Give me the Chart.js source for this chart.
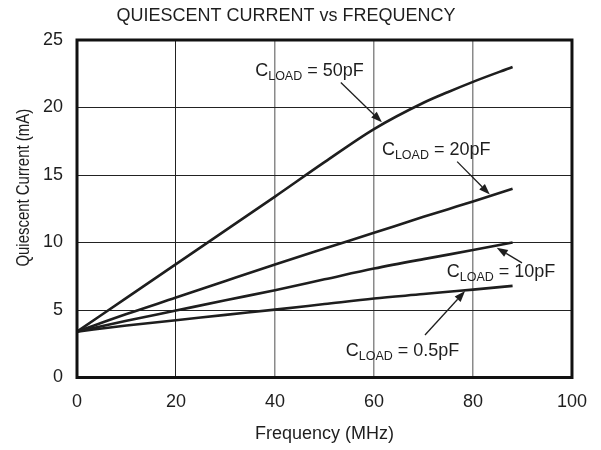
<!DOCTYPE html>
<html>
<head>
<meta charset="utf-8">
<script src="https://cdn.jsdelivr.net/npm/chart.js@4"></script>
<style>
  html, body { margin: 0; padding: 0; background: #fff; }
  #wrap { width: 601px; height: 450px; }
</style>
</head>
<body>
<div id="wrap"><canvas id="chart_iq"></canvas></div>
<script>
// frequency points (MHz)
var freq = [0, 10, 20, 30, 40, 50, 60, 70, 75, 80, 88];

// quiescent current (mA) per load capacitance
var iq50pF  = [3.4, 5.9, 8.4, 10.9, 13.4, 15.95, 18.4, 20.35, 21.15, 21.9, 23.0];
var iq20pF  = [3.4, 4.7, 5.92, 7.15, 8.37, 9.55, 10.72, 11.9, 12.47, 13.04, 13.98];
var iq10pF  = [3.4, 4.2, 4.96, 5.72, 6.47, 7.27, 8.07, 8.77, 9.1, 9.44, 10.0];
var iq05pF  = [3.4, 3.85, 4.24, 4.64, 5.03, 5.44, 5.85, 6.18, 6.35, 6.51, 6.79];

var xTicks = [0, 20, 40, 60, 80, 100];
var yTicks = [0, 5, 10, 15, 20, 25];

var yTitle = 'Quiescent Current (mA)';

// callouts: label anchor (left, baseline) and arrow tail -> head, in data units
var callouts = [
    { value: '50pF',  label: [36.0, 22.3], tail: [53.3, 21.85], head: [61.6, 18.9] },
    { value: '20pF',  label: [61.6, 16.5], tail: [76.8, 15.99], head: [83.4, 13.55] },
    { value: '10pF',  label: [74.7, 7.46], tail: [89.9, 8.49],  head: [84.8, 9.62] },
    { value: '0.5pF', label: [54.3, 1.6],  tail: [70.3, 3.15],  head: [78.4, 6.4] }
];

var INK = '#1e1e1e';
var FONT = "'Liberation Sans', Arial, Helvetica, sans-serif";

function toPoints(values) {
    return values.map((v, i) => ({ x: freq[i], y: v }));
}

function makeSet(label, values) {
    return {
        label: label,
        data: toPoints(values),
        borderColor: INK,
        borderWidth: 2.6,
        pointRadius: 0,
        cubicInterpolationMode: 'monotone',
        fill: false
    };
}

var calloutPlugin = {
    id: 'callouts',
    afterDatasetsDraw(chart) {
        let ctx = chart.ctx;
        let xs = chart.scales.x, ys = chart.scales.y;
        let area = chart.chartArea;

        // frame round the plot
        ctx.save();
        ctx.strokeStyle = '#111';
        ctx.lineWidth = 3;
        ctx.strokeRect(area.left, area.top, area.right - area.left, area.bottom - area.top);
        ctx.restore();

        // y axis title, narrow like the original
        ctx.save();
        ctx.translate(24, (area.top + area.bottom) / 2 - 21);
        ctx.rotate(-Math.PI / 2);
        ctx.scale(0.83, 1);
        ctx.fillStyle = INK;
        ctx.font = '18px ' + FONT;
        ctx.textAlign = 'center';
        ctx.textBaseline = 'middle';
        ctx.fillText(yTitle, 0, 0);
        ctx.restore();

        callouts.forEach(c => {
            let lx = xs.getPixelForValue(c.label[0]);
            let ly = ys.getPixelForValue(c.label[1]);
            ctx.save();
            ctx.fillStyle = INK;
            ctx.textBaseline = 'alphabetic';
            ctx.textAlign = 'left';
            ctx.font = '18px ' + FONT;
            ctx.fillText('C', lx, ly);
            let w = ctx.measureText('C').width;
            ctx.font = '12.5px ' + FONT;
            ctx.fillText('LOAD', lx + w, ly + 4);
            w += ctx.measureText('LOAD').width;
            ctx.font = '18px ' + FONT;
            ctx.fillText(' = ' + c.value, lx + w, ly);

            // arrow
            let tx = xs.getPixelForValue(c.tail[0]), ty = ys.getPixelForValue(c.tail[1]);
            let hx = xs.getPixelForValue(c.head[0]), hy = ys.getPixelForValue(c.head[1]);
            let ang = Math.atan2(hy - ty, hx - tx);
            let len = 11, half = 4;
            let bx = hx - len * Math.cos(ang), by = hy - len * Math.sin(ang);
            ctx.strokeStyle = INK;
            ctx.lineWidth = 1.3;
            ctx.beginPath();
            ctx.moveTo(tx, ty);
            ctx.lineTo(bx, by);
            ctx.stroke();
            ctx.beginPath();
            ctx.moveTo(hx, hy);
            ctx.lineTo(bx - half * Math.sin(ang), by + half * Math.cos(ang));
            ctx.lineTo(bx + half * Math.sin(ang), by - half * Math.cos(ang));
            ctx.closePath();
            ctx.fill();
            ctx.restore();
        });
    }
};

new Chart('chart_iq', {
    type: 'line',
    data: {
        datasets: [
            makeSet('50pF', iq50pF),
            makeSet('20pF', iq20pF),
            makeSet('10pF', iq10pF),
            makeSet('0.5pF', iq05pF)
        ]
    },
    options: {
        responsive: true,
        maintainAspectRatio: false,
        animation: { duration: 0 },
        layout: { padding: { left: 0, right: 29, top: 0, bottom: 0 } },
        plugins: {
            legend: { display: false },
            tooltip: { enabled: false },
            title: {
                display: true,
                text: 'QUIESCENT CURRENT vs FREQUENCY',
                color: INK,
                font: { family: FONT, size: 18, weight: 'normal' },
                padding: { top: 5, bottom: 13.4 }
            }
        },
        scales: {
            x: {
                type: 'linear',
                min: 0,
                max: 100,
                afterBuildTicks: axis => { axis.ticks = xTicks.map(v => ({ value: v })); },
                afterFit: axis => { axis.height = 72.5; },
                grid: {
                    drawTicks: false,
                    color: c => c.tick && c.tick.value === 20 ? '#222' : '#8a8a8a',
                    lineWidth: c => c.tick && c.tick.value === 20 ? 1 : 1.5
                },
                border: { display: false },
                ticks: { color: INK, padding: 14, font: { family: FONT, size: 18 } },
                title: {
                    display: true,
                    text: 'Frequency (MHz)',
                    color: INK,
                    font: { family: FONT, size: 18 },
                    padding: { top: 0, bottom: 5 }
                }
            },
            y: {
                min: 0,
                max: 25,
                afterBuildTicks: axis => { axis.ticks = yTicks.map(v => ({ value: v })); },
                afterFit: axis => { axis.width = 77; },
                grid: { drawTicks: false, color: '#222', lineWidth: 1 },
                border: { display: false },
                ticks: { color: INK, padding: 14, font: { family: FONT, size: 18 } },
                title: { display: false }
            }
        }
    },
    plugins: [calloutPlugin]
});
</script>
</body>
</html>
